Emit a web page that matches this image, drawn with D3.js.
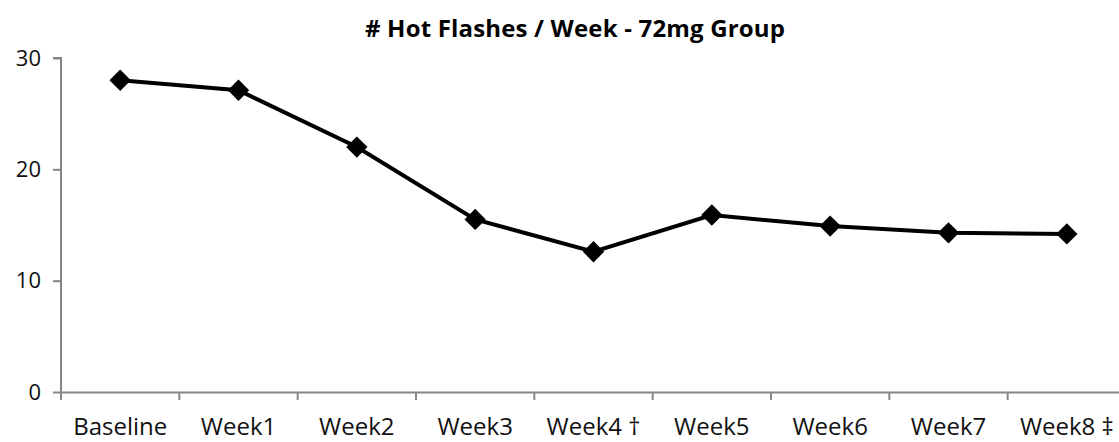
<body style="margin:0"></body>

<script src='https://d3js.org/d3.v7.min.js'></script>
<script>

    // categories and values
    let categories = ["Baseline", "Week1", "Week2", "Week3", "Week4 \u2020", "Week5", "Week6", "Week7", "Week8 \u2021"];
    let hotFlashes = [28.0, 27.1, 22.0, 15.5, 12.6, 15.9, 14.9, 14.3, 14.2];
    let yTicks = [0, 10, 20, 30];

    var width = 1119;
    var height = 442;
    var marginLeft = 61, marginRight = 1126, marginTop = 58, marginBottom = 392;

    var svg = d3.select("body")
        .append("svg")
        .attr("width", width)
        .attr("height", height)
        .style("font-family", "'Open Sans', sans-serif");

    var x = d3.scaleBand().domain(categories).range([marginLeft, marginRight]);
    var y = d3.scaleLinear().domain([0, 30]).range([marginBottom, marginTop]);

    svg.append("text")
        .attr("x", 575)
        .attr("y", 37)
        .attr("text-anchor", "middle")
        .style("font-size", "24px")
        .style("font-weight", "bold")
        .attr("textLength", 420)
        .text("# Hot Flashes / Week - 72mg Group");

    // y axis
    var yAxis = svg.append("g")
        .attr("transform", "translate(" + marginLeft + ",0)")
        .call(d3.axisLeft(y).tickValues(yTicks).tickSize(8).tickPadding(12));

    // x axis, ticks on band edges
    var xAxis = svg.append("g")
        .attr("transform", "translate(0," + marginBottom + ")")
        .call(d3.axisBottom(x).tickSize(0).tickPadding(26));
    xAxis.selectAll(".tick").each(function (d) {
        d3.select(this).append("line")
            .attr("x1", -x.bandwidth() / 2).attr("x2", -x.bandwidth() / 2)
            .attr("y1", 0).attr("y2", 8);
    });

    svg.selectAll(".domain, .tick line")
        .attr("stroke", "#868686")
        .attr("stroke-width", 2);
    yAxis.select(".domain").attr("d", "M-8," + marginTop + "H0V" + marginBottom);
    svg.selectAll(".tick text")
        .attr("fill", "#111")
        .style("font-size", "22px")
        .style("font-family", "'Open Sans', sans-serif");
    xAxis.selectAll(".tick text").style("font-size", "24px");

    var line = d3.line()
        .x(function (d, i) { return x(categories[i]) + x.bandwidth() / 2; })
        .y(function (d) { return y(d); });

    svg.append("path")
        .datum(hotFlashes)
        .attr("d", line)
        .attr("fill", "none")
        .attr("stroke", "black")
        .attr("stroke-width", 4);

    svg.selectAll(".marker")
        .data(hotFlashes)
        .enter()
        .append("path")
        .attr("class", "marker")
        .attr("d", d3.symbol().type(d3.symbolDiamond2).size(290))
        .attr("transform", function (d, i) {
            return "translate(" + (x(categories[i]) + x.bandwidth() / 2) + "," + y(d) + ")";
        })
        .attr("fill", "black");

</script>
